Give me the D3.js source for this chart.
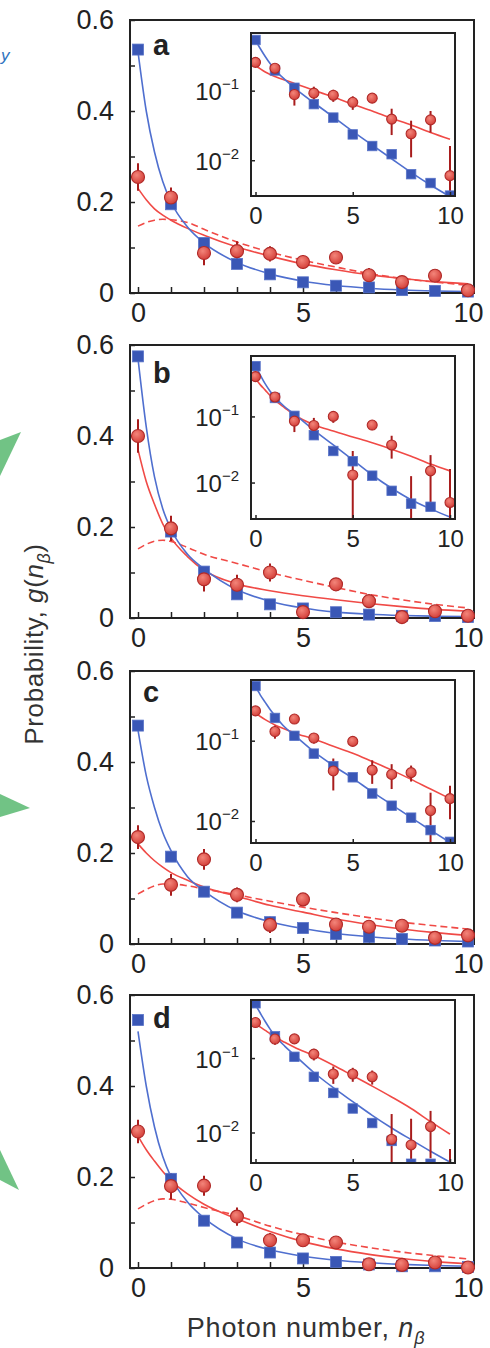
<!DOCTYPE html>
<html>
<head>
<meta charset="utf-8">
<script src="https://cdn.jsdelivr.net/npm/d3@7"></script>
<style>
  html, body { margin: 0; padding: 0; background: #fff; }
  svg { display: block; }
</style>
</head>
<body>
<svg id="fig" width="490" height="1348"></svg>
<script>
// ---------- data ----------
const photonNumbers = [0, 1, 2, 3, 4, 5, 6, 7, 8, 9, 10];
const panelLetters = ["a", "b", "c", "d"];

// measured photon-number distributions g(n): blue squares, red circles (+/- error)
const blueA = [0.535, 0.195, 0.11, 0.064, 0.041, 0.0235, 0.016, 0.0122, 0.0063, 0.0047, 0.0031];
const redA = [0.255, 0.21, 0.088, 0.092, 0.086, 0.068, 0.078, 0.039, 0.024, 0.038, 0.006];
const redErrA = [0.03, 0.022, 0.027, 0.022, 0.017, 0.015, 0.008, 0.016, 0.013, 0.013, 0.01];

const blueB = [0.575, 0.19, 0.102, 0.052, 0.03, 0.021, 0.0127, 0.0075, 0.0048, 0.0043, 0.002];
const redB = [0.40, 0.197, 0.085, 0.073, 0.10, 0.013, 0.074, 0.037, 0.002, 0.015, 0.005];
const redErrB = [0.037, 0.028, 0.027, 0.022, 0.02, 0.017, 0.012, 0.014, 0.0105, 0.011, 0.011];

const blueC = [0.48, 0.192, 0.115, 0.069, 0.048, 0.035, 0.022, 0.0155, 0.011, 0.0077, 0.0055];
const redC = [0.235, 0.13, 0.186, 0.108, 0.042, 0.098, 0.043, 0.038, 0.040, 0.0135, 0.019];
const redErrC = [0.026, 0.024, 0.023, 0.016, 0.018, 0.006, 0.014, 0.013, 0.009, 0.009, 0.0085];

const blueD = [0.545, 0.196, 0.104, 0.056, 0.034, 0.021, 0.0134, 0.0077, 0.0038, 0.0038, 0.002];
const redD = [0.30, 0.18, 0.181, 0.113, 0.061, 0.061, 0.056, 0.0081, 0.0068, 0.012, 0.001];
const redErrD = [0.026, 0.029, 0.022, 0.02, 0.016, 0.013, 0.012, 0.0096, 0.0085, 0.0075, 0.005];

// model curves sampled along n
const fitN = [0, 0.25, 0.5, 0.75, 1, 1.5, 2, 3, 4, 5, 6, 7, 8, 9, 10];

const blueFitA = [0.53, 0.40, 0.31, 0.245, 0.20, 0.145, 0.11, 0.067, 0.042, 0.026, 0.0165, 0.0105, 0.0067, 0.0044, 0.003];
const redFitA = [0.23, 0.205, 0.185, 0.171, 0.16, 0.142, 0.127, 0.101, 0.081, 0.064, 0.051, 0.04, 0.032, 0.025, 0.02];
const redDashA = [0.147, 0.155, 0.16, 0.162, 0.161, 0.155, 0.14, 0.112, 0.09, 0.072, 0.057, 0.043, 0.032, 0.024, 0.017];

const blueFitB = [0.57, 0.42, 0.31, 0.24, 0.195, 0.14, 0.108, 0.062, 0.037, 0.022, 0.013, 0.0082, 0.0055, 0.004, 0.003];
const redFitB = [0.37, 0.30, 0.25, 0.207, 0.176, 0.135, 0.105, 0.075, 0.06, 0.049, 0.04, 0.032, 0.025, 0.019, 0.015];
const redDashB = [0.152, 0.162, 0.169, 0.171, 0.168, 0.155, 0.14, 0.12, 0.1, 0.083, 0.067, 0.052, 0.04, 0.03, 0.022];

const blueFitC = [0.47, 0.37, 0.30, 0.245, 0.205, 0.148, 0.117, 0.073, 0.049, 0.034, 0.023, 0.016, 0.011, 0.0077, 0.0054];
const redFitC = [0.22, 0.20, 0.183, 0.169, 0.157, 0.14, 0.125, 0.105, 0.085, 0.07, 0.055, 0.043, 0.033, 0.025, 0.019];
const redDashC = [0.11, 0.12, 0.128, 0.132, 0.132, 0.128, 0.121, 0.108, 0.094, 0.081, 0.069, 0.058, 0.048, 0.04, 0.033];

const blueFitD = [0.52, 0.40, 0.31, 0.245, 0.20, 0.145, 0.11, 0.064, 0.04, 0.026, 0.017, 0.0115, 0.008, 0.0056, 0.004];
const redFitD = [0.29, 0.26, 0.235, 0.212, 0.192, 0.163, 0.14, 0.108, 0.08, 0.058, 0.042, 0.03, 0.021, 0.014, 0.0095];
const redDashD = [0.13, 0.14, 0.148, 0.152, 0.151, 0.143, 0.133, 0.115, 0.092, 0.073, 0.057, 0.045, 0.035, 0.027, 0.02];

// axis ticks and labels
const mainYTicks = [0, 0.1, 0.2, 0.3, 0.4, 0.5, 0.6];
const mainYLabels = [0, 0.2, 0.4, 0.6];
const xTickLabels = [0, 5, 10];
const insetYTicks = [0.1, 0.01];
const insetYExponents = ["\u22121", "\u22122"];
const insetLogDomains = [[0.00306, 0.674], [0.00281, 0.82], [0.00532, 0.57], [0.00389, 0.603]];

const xAxisTitle = "Photon number, ";
const yAxisTitle = "Probability, ";

// ---------- layout ----------
const panels = [
  { letter: panelLetters[0], blue: blueA, red: redA, err: redErrA, bFit: blueFitA, rFit: redFitA, rDash: redDashA },
  { letter: panelLetters[1], blue: blueB, red: redB, err: redErrB, bFit: blueFitB, rFit: redFitB, rDash: redDashB },
  { letter: panelLetters[2], blue: blueC, red: redC, err: redErrC, bFit: blueFitC, rFit: redFitC, rDash: redDashC },
  { letter: panelLetters[3], blue: blueD, red: redD, err: redErrD, bFit: blueFitD, rFit: redFitD, rDash: redDashD }
];
const panelTops = [20, 345, 671, 995];
const panelH = 273;
const frameL = 130, frameR = 474;
const insetTopOffsets = [13, 11, 9, 5];
const insetH = 163;
const insetL = 251, insetR = 455;
const letterX = [153, 153, 143, 153];
const letterDy = [35, 38, 31, 33];

const FONT = "'Liberation Sans', Arial, Helvetica, sans-serif";
const BLUE = "#3a57b6", BLUE_LINE = "#4f6fcf";
const RED_LINE = "#f04a46", RED_BAR = "#a81c1c", RED_EDGE = "#b02a28";
const INK = "#222";

const svg = d3.select("#fig");
const defs = svg.append("defs");
const grad = defs.append("radialGradient").attr("id", "redDot")
  .attr("cx", "40%").attr("cy", "35%").attr("r", "70%");
grad.append("stop").attr("offset", "0%").attr("stop-color", "#f3857a");
grad.append("stop").attr("offset", "100%").attr("stop-color", "#d23c36");

// fragments of the neighbouring artwork on the left edge
const side = svg.append("g");
side.append("text").attr("x", 1).attr("y", 61)
  .attr("font-family", FONT).attr("font-style", "italic").attr("font-size", 17)
  .attr("fill", "#2f74c0").text("y");
[[[0, 440], [21, 432], [0, 476]],
 [[0, 794], [30, 808], [0, 817]],
 [[0, 1150], [19, 1190], [0, 1180]]].forEach(pts => {
  side.append("polygon").attr("points", pts.map(p => p.join(",")).join(" "))
    .attr("fill", "#62bd78").attr("opacity", 0.9);
});

function drawPoints(g, x, y, p, sq, r, bottomPx) {
  // error bars
  g.append("g").selectAll("line").data(photonNumbers).join("line")
    .attr("x1", d => x(d)).attr("x2", d => x(d))
    .attr("y1", d => Math.min(bottomPx, y(Math.max(p.red[d] - p.err[d], y.domain()[0]))))
    .attr("y2", d => y(p.red[d] + p.err[d]))
    .attr("stroke", RED_BAR).attr("stroke-width", 2);
  // blue squares
  g.append("g").selectAll("rect").data(photonNumbers).join("rect")
    .attr("x", d => x(d) - sq / 2).attr("y", d => y(p.blue[d]) - sq / 2)
    .attr("width", sq).attr("height", sq)
    .attr("fill", BLUE).attr("stroke", "#5873c8").attr("stroke-width", 0.8);
  // red circles
  g.append("g").selectAll("circle").data(photonNumbers).join("circle")
    .attr("cx", d => x(d)).attr("cy", d => y(p.red[d])).attr("r", r)
    .attr("fill", "url(#redDot)").attr("stroke", RED_EDGE).attr("stroke-width", 1.1);
}

function drawCurves(g, x, y, p, withDash) {
  const line = vals => d3.line().curve(d3.curveMonotoneX)
    .x((d, i) => x(fitN[i])).y(d => y(d))(vals);
  if (withDash) {
    g.append("path").attr("d", line(p.rDash)).attr("fill", "none")
      .attr("stroke", RED_LINE).attr("stroke-width", 1.6).attr("stroke-dasharray", "7,4");
  }
  g.append("path").attr("d", line(p.rFit)).attr("fill", "none")
    .attr("stroke", RED_LINE).attr("stroke-width", 1.6);
  g.append("path").attr("d", line(p.bFit)).attr("fill", "none")
    .attr("stroke", BLUE_LINE).attr("stroke-width", 1.6);
}

panels.forEach((p, i) => {
  const top = panelTops[i], bottom = top + panelH;
  const x = d3.scaleLinear().domain([0, 10]).range([138, 468]);
  const y = d3.scaleLinear().domain([0, 0.6]).range([bottom, top]);
  const g = svg.append("g");

  // axes
  const yAxis = d3.axisLeft(y).tickValues(mainYTicks).tickSize(-5).tickPadding(16)
    .tickFormat(d => mainYLabels.some(v => Math.abs(v - d) < 1e-9) ? d3.format("")(+d.toFixed(1)) : "");
  const ya = g.append("g").attr("transform", `translate(${frameL},0)`).call(yAxis);
  const xAxis = d3.axisBottom(x).tickValues(photonNumbers).tickSize(-6).tickPadding(10)
    .tickFormat(d => xTickLabels.includes(d) ? d : "");
  const xa = g.append("g").attr("transform", `translate(0,${bottom})`).call(xAxis);
  [ya, xa].forEach(a => {
    a.select(".domain").remove();
    a.selectAll(".tick line").attr("stroke", INK).attr("stroke-width", 1.5);
    a.selectAll(".tick text").attr("font-family", FONT).attr("font-size", 27).attr("fill", INK);
  });

  // main curves
  drawCurves(g, x, y, p, true);

  // frame
  g.append("rect").attr("x", frameL).attr("y", top).attr("width", frameR - frameL).attr("height", panelH)
    .attr("fill", "none").attr("stroke", INK).attr("stroke-width", 2);

  // inset (log scale)
  const iTop = top + insetTopOffsets[i], iBot = iTop + insetH;
  const xi = d3.scaleLinear().domain([0, 10]).range([insetL + 4.5, insetR - 5]);
  const yi = d3.scaleLog().domain(insetLogDomains[i]).range([iBot, iTop]);
  const ig = g.append("g");
  ig.append("rect").attr("x", insetL).attr("y", iTop).attr("width", insetR - insetL).attr("height", insetH)
    .attr("fill", "#fff");
  const clipId = "inset-clip-" + i;
  defs.append("clipPath").attr("id", clipId).append("rect")
    .attr("x", insetL).attr("y", iTop).attr("width", insetR - insetL).attr("height", insetH);
  const ic = ig.append("g").attr("clip-path", `url(#${clipId})`);
  drawCurves(ic, xi, yi, p, false);
  drawPoints(ic, xi, yi, p, 9.5, 5, iBot + 10);

  const yiAxis = d3.axisLeft(yi).tickValues(insetYTicks).tickSize(-4).tickFormat(() => "");
  const yia = ig.append("g").attr("transform", `translate(${insetL},0)`).call(yiAxis);
  yia.selectAll(".tick").each(function (d, k) {
    const t = d3.select(this).append("text")
      .attr("x", -12).attr("y", 9).attr("text-anchor", "end")
      .attr("font-family", FONT).attr("fill", INK);
    t.append("tspan").attr("font-size", 24).text("10");
    t.append("tspan").attr("font-size", 15).attr("dy", -11).text(insetYExponents[k]);
  });
  const xiAxis = d3.axisBottom(xi).tickValues(xTickLabels).tickSize(-4).tickPadding(11);
  const xia = ig.append("g").attr("transform", `translate(0,${iBot})`).call(xiAxis);
  [yia, xia].forEach(a => {
    a.select(".domain").remove();
    a.selectAll(".tick line").attr("stroke", INK).attr("stroke-width", 1.5);
  });
  xia.selectAll(".tick text").attr("font-family", FONT).attr("font-size", 24).attr("fill", INK);
  ig.append("rect").attr("x", insetL).attr("y", iTop).attr("width", insetR - insetL).attr("height", insetH)
    .attr("fill", "none").attr("stroke", INK).attr("stroke-width", 2);

  // main data points drawn over everything in the panel
  drawPoints(g, x, y, p, 11, 6.5, bottom);

  // panel letter
  g.append("text").attr("x", letterX[i]).attr("y", top + letterDy[i])
    .attr("font-family", FONT).attr("font-weight", "bold").attr("font-size", 29)
    .attr("fill", INK).text(p.letter);
});

// axis titles
const xt = svg.append("text").attr("x", 306).attr("y", 1337).attr("text-anchor", "middle")
  .attr("font-family", FONT).attr("font-size", 27).attr("letter-spacing", 0.9).attr("fill", "#333");
xt.append("tspan").text(xAxisTitle);
xt.append("tspan").attr("font-style", "italic").text("n");
xt.append("tspan").attr("font-style", "italic").attr("font-size", 18).attr("dy", 7).text("\u03b2");

const yt = svg.append("text").attr("transform", "translate(43,644) rotate(-90)").attr("text-anchor", "middle")
  .attr("font-family", FONT).attr("font-size", 26).attr("letter-spacing", 0.6).attr("fill", "#333");
yt.append("tspan").text(yAxisTitle);
yt.append("tspan").attr("font-style", "italic").text("g");
yt.append("tspan").text("(");
yt.append("tspan").attr("font-style", "italic").text("n");
yt.append("tspan").attr("font-style", "italic").attr("font-size", 18).attr("dy", 7).text("\u03b2");
yt.append("tspan").attr("dy", -7).text(")");
</script>
</body>
</html>
